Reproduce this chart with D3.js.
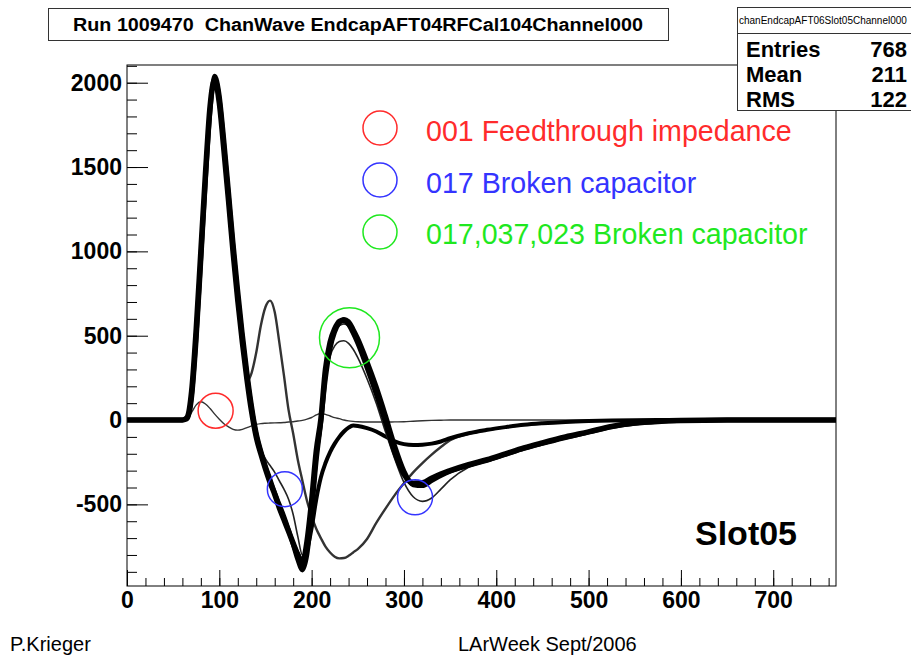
<!DOCTYPE html>
<html>
<head>
<meta charset="utf-8">
<script src="https://cdn.jsdelivr.net/npm/d3@7"></script>
<style>
  body { margin: 0; background: #fff; }
  text { font-family: "Liberation Sans", Arial, Helvetica, sans-serif; }
</style>
</head>
<body>
<svg id="chart" width="911" height="657"></svg>
<script>
// sample times shared by every waveform
var times = [0,60,65,70,75,80,85,90,95,100,105,110,115,120,125,130,135,140,145,150,155,160,165,170,175,180,185,190,195,200,205,210,215,220,225,230,235,240,245,250,260,270,280,290,300,310,320,330,340,350,370,390,410,430,450,475,500,525,550,575,600,650,700,768];

// the bulk of the channels (thick bundle)
var mainPulse = [0,0,15,170,540,1000,1460,1860,2020,1880,1600,1300,990,710,460,240,50,-100,-200,-290,-370,-440,-520,-590,-660,-730,-800,-850,-720,-480,-185,5,300,460,540,585,592,570,520,460,316,160,-10,-190,-320,-375,-372,-345,-320,-300,-265,-235,-200,-165,-135,-100,-70,-38,-18,-8,-3,0,0,0];
var latePulse = [0,0,5,120,460,920,1400,1820,2040,1930,1670,1370,1060,780,520,290,90,-70,-180,-270,-350,-430,-500,-570,-650,-740,-830,-890,-800,-560,-250,-20,240,420,520,575,598,585,540,485,350,200,30,-150,-300,-385,-390,-360,-330,-305,-270,-240,-205,-170,-140,-105,-72,-40,-20,-9,-4,0,0,0];
// 017 broken capacitor: shoulder on the first undershoot
var shoulderPulse = [0,0,15,170,540,1000,1460,1860,2020,1880,1600,1300,990,710,460,240,50,-100,-175,-230,-270,-310,-360,-410,-470,-560,-690,-800,-740,-500,-200,0,280,440,520,560,570,555,510,450,310,155,-15,-190,-320,-370,-368,-342,-318,-298,-262,-232,-198,-163,-133,-98,-68,-37,-17,-8,-3,0,0,0];
// lower second peak, deeper second undershoot
var lowPeakPulse = [0,0,15,170,540,1000,1460,1860,2020,1880,1600,1300,990,710,460,240,50,-100,-200,-290,-370,-440,-520,-590,-660,-730,-790,-830,-700,-470,-200,-10,250,380,440,465,470,455,420,370,245,100,-70,-230,-370,-455,-482,-462,-410,-355,-280,-240,-202,-166,-135,-100,-70,-38,-18,-8,-3,0,0,0];
// channels whose second lobe stays negative
var flatPulse = [0,0,15,170,540,1000,1460,1860,2020,1880,1600,1300,990,710,460,240,50,-100,-200,-290,-370,-440,-520,-590,-660,-730,-790,-830,-770,-640,-470,-340,-255,-190,-140,-100,-68,-45,-33,-35,-48,-68,-98,-126,-143,-148,-146,-140,-127,-108,-78,-58,-42,-28,-19,-11,-6,-3,-1,0,0,0,0,0];
// channels with the early 700 bump
var bumpPulse = [0,0,15,170,540,1000,1460,1860,2020,1880,1600,1300,990,710,460,230,280,400,560,670,708,640,460,265,60,-80,-235,-360,-480,-570,-645,-700,-750,-785,-810,-820,-818,-805,-785,-765,-705,-610,-525,-445,-375,-310,-255,-205,-160,-120,-82,-60,-43,-29,-19,-11,-6,-3,-1,0,0,0,0,0];
// 001 feedthrough impedance: almost no signal
var feedPulse = [0,0,5,45,90,108,95,68,35,5,-22,-40,-55,-60,-55,-45,-35,-26,-21,-19,-18,-17,-16,-15,-12,-10,-6,-2,5,15,30,39,34,24,14,8,0,-5,-8,-10,-12,-12,-12,-11,-10,-7,-4,-2,-1,0,0,0,0,0,0,0,0,0,0,0,0,0,0,0];

var xTicks = [0,100,200,300,400,500,600,700];
var yTicks = [-500,0,500,1000,1500,2000];

var legendLabels = ["001 Feedthrough impedance", "017 Broken capacitor", "017,037,023 Broken capacitor"];
var legendColors = ["#ff2b2b", "#3434ff", "#1fe81f"];

// circled problem spots (time, value) and which legend entry they belong to
var markTimes = [96, 171, 312, 241];
var markValues = [55, -410, -458, 488];
var markKinds = [0, 1, 1, 2];

var statNames = ["Entries", "Mean", "RMS"];
var statValues = ["768", "211", "122"];

var svg = d3.select("#chart");
svg.append("rect").attr("width", 911).attr("height", 657).attr("fill", "#fff");

var margin = {top: 65, right: 75, bottom: 71, left: 127},
    width = 911 - margin.left - margin.right,
    height = 657 - margin.top - margin.bottom;

var x = d3.scaleLinear().domain([0, 768]).range([0, width]);
var y = d3.scaleLinear().domain([-984, 2105]).range([height, 0]);

var g = svg.append("g").attr("transform", "translate(" + margin.left + "," + margin.top + ")");

g.append("clipPath").attr("id", "clip")
  .append("rect").attr("width", width).attr("height", height);

// minor ticks
g.append("g")
  .attr("transform", "translate(0," + height + ")")
  .call(d3.axisBottom(x).tickValues(d3.range(0, 769, 20)).tickSize(-8).tickFormat(""))
  .call(function(s){ s.select(".domain").remove(); });
g.append("g")
  .call(d3.axisLeft(y).tickValues(d3.range(-900, 2101, 100)).tickSize(-10).tickFormat(""))
  .call(function(s){ s.select(".domain").remove(); });

// major ticks + labels
var xAxis = g.append("g")
  .attr("transform", "translate(0," + height + ")")
  .call(d3.axisBottom(x).tickValues(xTicks).tickSizeInner(-16).tickSizeOuter(0).tickPadding(6).tickFormat(d3.format("d")));
xAxis.select(".domain").remove();
xAxis.selectAll("text").attr("font-size", 23).attr("font-weight", "bold").attr("fill", "#000");

var yAxis = g.append("g")
  .call(d3.axisLeft(y).tickValues(yTicks).tickSizeInner(-21).tickSizeOuter(0).tickPadding(5).tickFormat(function(d) { return String(d); }));
yAxis.select(".domain").remove();
yAxis.selectAll("text").attr("font-size", 23).attr("font-weight", "bold").attr("fill", "#000");

g.selectAll(".tick line").attr("stroke", "#000");

// waveforms
var line = d3.line()
  .x(function(d, i) { return x(times[i]); })
  .y(function(d) { return y(d); })
  .curve(d3.curveMonotoneX);

var curves = g.append("g").attr("clip-path", "url(#clip)");
function wave(data, w, col) {
  curves.append("path")
    .datum(data)
    .attr("fill", "none")
    .attr("stroke", col)
    .attr("stroke-width", w)
    .attr("stroke-linejoin", "round")
    .attr("d", line);
}
wave(feedPulse, 1.4, "#333");
wave(bumpPulse, 2.4, "#333");
wave(flatPulse, 4, "#000");
wave(shoulderPulse, 1.6, "#222");
wave(lowPeakPulse, 1.6, "#222");
wave(latePulse, 4.5, "#000");
wave(mainPulse, 5.5, "#000");

// frame
g.append("rect")
  .attr("width", width).attr("height", height)
  .attr("fill", "none").attr("stroke", "#000").attr("stroke-width", 1);

// circled spots
g.selectAll("circle.mark")
  .data(markTimes)
  .enter().append("circle")
  .attr("class", "mark")
  .attr("cx", function(d) { return x(d); })
  .attr("cy", function(d, i) { return y(markValues[i]); })
  .attr("r", function(d, i) { return markKinds[i] == 2 ? 30 : 17.5; })
  .attr("fill", "none")
  .attr("stroke", function(d, i) { return legendColors[markKinds[i]]; })
  .attr("stroke-width", 1.5);

// legend
var legend = svg.append("g");
legendLabels.forEach(function(lab, i) {
  legend.append("circle")
    .attr("cx", 380).attr("cy", 128 + i * 52).attr("r", 17)
    .attr("fill", "none").attr("stroke", legendColors[i]).attr("stroke-width", 1.5);
  legend.append("text")
    .attr("x", 426).attr("y", 141 + i * 51.5)
    .attr("font-size", 28.6)
    .attr("fill", legendColors[i])
    .text(lab);
});

svg.append("text")
  .attr("x", 695).attr("y", 545)
  .attr("font-size", 34).attr("font-weight", "bold")
  .text("Slot05");

// title box
svg.append("rect")
  .attr("x", 48.5).attr("y", 8.5).attr("width", 620).attr("height", 32)
  .attr("fill", "#fff").attr("stroke", "#333");
svg.append("text")
  .attr("x", 358).attr("y", 31)
  .attr("text-anchor", "middle")
  .attr("font-size", 18).attr("font-weight", "bold")
  .attr("textLength", 570).attr("lengthAdjust", "spacingAndGlyphs")
  .style("white-space", "pre")
  .text("Run 1009470  ChanWave EndcapAFT04RFCal104Channel000");

// stats box
var stats = svg.append("g");
stats.append("rect")
  .attr("x", 737.5).attr("y", 7.5).attr("width", 190).attr("height", 103)
  .attr("fill", "#fff").attr("stroke", "#333");
stats.append("line")
  .attr("x1", 737.5).attr("x2", 911).attr("y1", 33.5).attr("y2", 33.5)
  .attr("stroke", "#333");
stats.append("text")
  .attr("x", 739).attr("y", 24)
  .attr("font-size", 10)
  .text("chanEndcapAFT06Slot05Channel000");
statNames.forEach(function(n, i) {
  stats.append("text")
    .attr("x", 746).attr("y", 57 + i * 25)
    .attr("font-size", 22).attr("font-weight", "bold")
    .text(n);
  stats.append("text")
    .attr("x", 907).attr("y", 57 + i * 25)
    .attr("text-anchor", "end")
    .attr("font-size", 22).attr("font-weight", "bold")
    .text(statValues[i]);
});

// footer
svg.append("text").attr("x", 10).attr("y", 651).attr("font-size", 20).text("P.Krieger");
svg.append("text").attr("x", 458).attr("y", 651).attr("font-size", 20).text("LArWeek Sept/2006");
</script>
</body>
</html>
